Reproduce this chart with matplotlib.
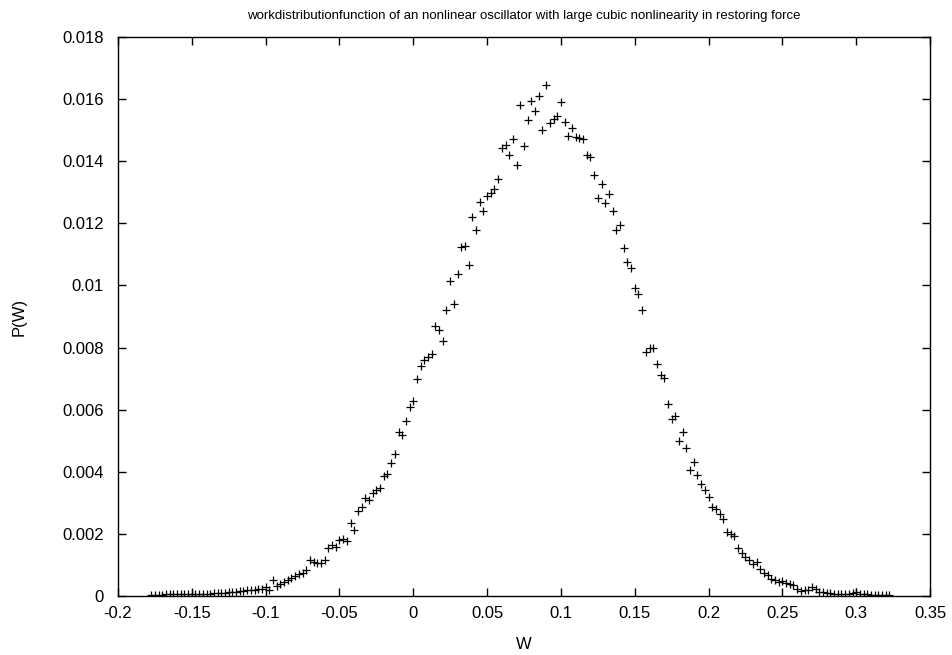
import numpy as np
import matplotlib
matplotlib.use("Agg")
import matplotlib.pyplot as plt

plt.rcParams["font.family"] = ["Liberation Sans", "DejaVu Sans"]
plt.rcParams["axes.unicode_minus"] = False

# histogram bins of the work W (regular grid)
w_start = -0.1775
w_step = 0.0025

# P(W), one value per bin
p_w = [
    0.00003, 0.00003, 0.00004, 0.00004, 0.00005, 0.00005, 0.00006, 0.00005, 0.00006, 0.00007,
    0.00008, 0.00006, 0.00007, 0.00007, 0.00008, 0.00007, 0.00008, 0.00009, 0.00009, 0.00010,
    0.00011, 0.00012, 0.00013, 0.00012, 0.00015, 0.00016, 0.00018, 0.00020, 0.00018, 0.00024,
    0.00022, 0.00029, 0.00020, 0.00051, 0.00031, 0.00040, 0.00045, 0.00050, 0.00058, 0.00065,
    0.00070, 0.00074, 0.00085, 0.00115, 0.00110, 0.00106, 0.00105, 0.00116, 0.00155, 0.00163,
    0.00158, 0.00180, 0.00185, 0.00178, 0.00235, 0.00212, 0.00275, 0.00287, 0.00314, 0.00310,
    0.00332, 0.00340, 0.00348, 0.00385, 0.00392, 0.00428, 0.00456, 0.00528, 0.00517, 0.00563,
    0.00609, 0.00628, 0.00698, 0.00740, 0.00759, 0.00768, 0.00778, 0.00868, 0.00858, 0.00821,
    0.00922, 0.01014, 0.00941, 0.01038, 0.01124, 0.01128, 0.01065, 0.01220, 0.01178, 0.01269,
    0.01240, 0.01287, 0.01298, 0.01312, 0.01342, 0.01443, 0.01451, 0.01419, 0.01471, 0.01387,
    0.01580, 0.01449, 0.01532, 0.01594, 0.01562, 0.01610, 0.01502, 0.01644, 0.01523, 0.01535,
    0.01545, 0.01591, 0.01526, 0.01480, 0.01507, 0.01478, 0.01475, 0.01470, 0.01419, 0.01412,
    0.01357, 0.01283, 0.01328, 0.01266, 0.01296, 0.01240, 0.01178, 0.01194, 0.01119, 0.01076,
    0.01056, 0.00992, 0.00972, 0.00920, 0.00786, 0.00797, 0.00800, 0.00746, 0.00711, 0.00703,
    0.00617, 0.00570, 0.00581, 0.00499, 0.00528, 0.00475, 0.00406, 0.00430, 0.00389, 0.00361,
    0.00342, 0.00318, 0.00288, 0.00280, 0.00263, 0.00249, 0.00206, 0.00199, 0.00192, 0.00153,
    0.00138, 0.00126, 0.00115, 0.00104, 0.00110, 0.00088, 0.00075, 0.00067, 0.00055, 0.00051,
    0.00045, 0.00047, 0.00042, 0.00040, 0.00034, 0.00022, 0.00017, 0.00018, 0.00020, 0.00028,
    0.00022, 0.00014, 0.00012, 0.00010, 0.00009, 0.00008, 0.00007, 0.00007, 0.00006, 0.00008,
    0.00009, 0.00012, 0.00006, 0.00005, 0.00005, 0.00004, 0.00004, 0.00004, 0.00003, 0.00003,
    0.00003,
]

x_ticks = [-0.2, -0.15, -0.1, -0.05, 0, 0.05, 0.1, 0.15, 0.2, 0.25, 0.3, 0.35]
y_ticks = [0, 0.002, 0.004, 0.006, 0.008, 0.01, 0.012, 0.014, 0.016, 0.018]

W = w_start + w_step * np.arange(len(p_w))

fig = plt.figure(figsize=(9.53, 6.55), dpi=100)
ax = fig.add_axes([0.1238, 0.0901, 0.8521, 0.8534])

ax.plot(W, p_w, linestyle="none", marker="+", color="black",
        markersize=6, markeredgewidth=0.9)

ax.set_xlim(-0.2, 0.35)
ax.set_ylim(0, 0.018)
ax.set_xticks(x_ticks)
ax.set_xticklabels(["%g" % t for t in x_ticks])
ax.set_yticks(y_ticks)
ax.set_yticklabels(["%g" % t for t in y_ticks])
ax.tick_params(direction="in", top=True, right=True, length=6, width=1,
               labelsize=12)
ax.tick_params(axis="y", pad=10)
ax.tick_params(axis="x", pad=7)
for s in ax.spines.values():
    s.set_linewidth(1)

ax.set_xlabel("W", fontsize=12, labelpad=12)
ax.set_ylabel("P(W)", fontsize=12, labelpad=26)
ax.set_title("workdistributionfunction of an nonlinear oscillator with large cubic "
             "nonlinearity in restoring force", fontsize=9.5, pad=13)

fig.savefig("out.png", dpi=100)
